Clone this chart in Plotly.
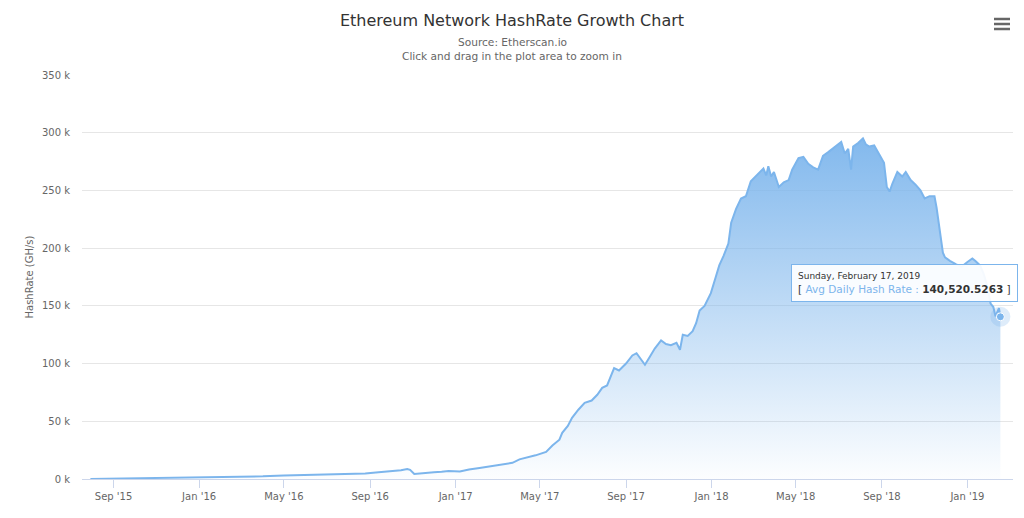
import plotly.graph_objects as go
import pandas as pd

# daily average hashrate (GH/s)
dates = [
    "2015-07-30", "2015-08-15", "2015-09-01", "2015-10-01", "2015-11-01", "2015-12-01",
    "2016-01-01", "2016-02-01", "2016-03-06", "2016-04-01", "2016-05-01", "2016-06-08",
    "2016-07-01", "2016-08-03", "2016-08-25", "2016-09-13", "2016-10-01", "2016-10-15",
    "2016-10-24", "2016-10-28", "2016-11-03", "2016-11-10", "2016-11-20", "2016-12-01",
    "2016-12-12", "2016-12-22", "2017-01-07", "2017-01-20", "2017-02-04", "2017-02-20",
    "2017-03-08", "2017-03-23", "2017-04-02", "2017-04-12", "2017-04-25", "2017-05-10",
    "2017-05-19", "2017-05-29", "2017-06-02", "2017-06-10", "2017-06-16", "2017-06-25",
    "2017-07-04", "2017-07-14", "2017-07-22", "2017-07-29", "2017-08-05", "2017-08-15",
    "2017-08-22", "2017-09-01", "2017-09-10", "2017-09-16", "2017-09-22", "2017-09-28",
    "2017-10-05", "2017-10-12", "2017-10-21", "2017-10-28", "2017-11-04", "2017-11-12",
    "2017-11-17", "2017-11-21", "2017-11-28", "2017-12-05", "2017-12-10", "2017-12-15",
    "2017-12-22", "2017-12-31", "2018-01-07", "2018-01-12", "2018-01-18", "2018-01-25",
    "2018-01-29", "2018-02-05", "2018-02-12", "2018-02-19", "2018-02-26", "2018-03-05",
    "2018-03-09", "2018-03-16", "2018-03-20", "2018-03-23", "2018-03-27", "2018-03-31",
    "2018-04-07", "2018-04-14", "2018-04-21", "2018-04-26", "2018-05-05", "2018-05-12",
    "2018-05-19", "2018-05-26", "2018-06-02", "2018-06-09", "2018-06-16", "2018-06-26",
    "2018-07-05", "2018-07-10", "2018-07-15", "2018-07-19", "2018-07-22", "2018-07-29",
    "2018-08-05", "2018-08-09", "2018-08-14", "2018-08-21", "2018-08-28", "2018-09-04",
    "2018-09-08", "2018-09-12", "2018-09-16", "2018-09-23", "2018-09-30", "2018-10-05",
    "2018-10-12", "2018-10-19", "2018-10-26", "2018-11-01", "2018-11-08", "2018-11-15",
    "2018-11-18", "2018-11-22", "2018-11-27", "2018-11-30", "2018-12-07", "2018-12-16",
    "2018-12-24", "2019-01-01", "2019-01-08", "2019-01-12", "2019-01-19", "2019-01-24",
    "2019-01-29", "2019-02-03", "2019-02-07", "2019-02-10", "2019-02-12", "2019-02-15",
    "2019-02-17",
]
hashrate = [
    50, 200, 350, 500, 600, 750,
    1000, 1300, 1700, 2300, 3000, 3500,
    3800, 4300, 4800, 5800, 6500, 7600,
    8700, 8000, 4300, 4800, 5600, 5800,
    6200, 7000, 6500, 8200, 9500, 11000,
    12500, 14000, 17000, 18500, 20500, 23500,
    29000, 34000, 40000, 46000, 53000, 60000,
    66000, 68000, 73000, 79000, 81000, 96000,
    94000, 100000, 107000, 109000, 104000, 99000,
    106000, 113000, 120000, 117000, 116000, 118000,
    112000, 125000, 124000, 128000, 135000, 146000,
    150000, 161000, 175000, 185000, 193000, 204000,
    222000, 234000, 243000, 245000, 258000, 262000,
    265000, 269000, 263000, 271000, 262000, 266000,
    253000, 257000, 259000, 268000, 278000, 279000,
    273000, 270000, 268000, 280000, 283000, 288000,
    292000, 282000, 286000, 268000, 288000, 291000,
    295000, 290000, 288000, 289000, 282000, 274000,
    253000, 249000, 256000, 266000, 262000, 266000,
    259000, 255000, 250000, 243000, 245000, 245000,
    235000, 216000, 196000, 192000, 189000, 186000,
    184000, 188000, 191000, 189000, 185000, 178000,
    168000, 152000, 149000, 141000, 144000, 148000,
    140520.5263,
]

y_ticks = [0, 50000, 100000, 150000, 200000, 250000, 300000, 350000]
y_tick_labels = ["0 k", "50 k", "100 k", "150 k", "200 k", "250 k", "300 k", "350 k"]

df = pd.DataFrame({"Date": pd.to_datetime(dates), "HashRate": hashrate})

FONT = "DejaVu Sans"
BLUE = "#7cb5ec"

fig = go.Figure()
fig.add_trace(go.Scatter(
    x=df["Date"], y=df["HashRate"],
    mode="lines",
    line=dict(color=BLUE, width=2),
    fill="tozeroy",
    fillgradient=dict(
        type="vertical",
        colorscale=[[0, "rgba(124,181,236,0.02)"], [1, "rgba(124,181,236,0.95)"]],
    ),
    hoverinfo="skip",
    showlegend=False,
))

# hovered point + halo
last = df.iloc[-1]
fig.add_trace(go.Scatter(
    x=[last["Date"]], y=[last["HashRate"]], mode="markers",
    marker=dict(size=20, color="rgba(124,181,236,0.25)"),
    hoverinfo="skip", showlegend=False,
))
fig.add_trace(go.Scatter(
    x=[last["Date"]], y=[last["HashRate"]], mode="markers",
    marker=dict(size=8, color=BLUE, line=dict(color="white", width=1)),
    hoverinfo="skip", showlegend=False,
))

tip = (
    "<span style='font-size:9px'>%s</span><br>"
    "[ <span style='color:%s'>Avg Daily Hash Rate : </span><b>%s</b> ]"
    % (last["Date"].strftime("%A, %B %d, %Y").replace(" 0", " "), BLUE,
       "{:,.4f}".format(last["HashRate"]))
)

fig.update_layout(
    width=1024, height=518,
    margin=dict(l=82, r=11, t=75, b=39),
    paper_bgcolor="white", plot_bgcolor="white",
    font=dict(family=FONT, color="#666666", size=10),
    title=dict(
        text="Ethereum Network HashRate Growth Chart",
        x=0.5, xref="container", xanchor="center",
        y=1 - 20 / 518, yref="container", yanchor="middle",
        font=dict(family=FONT, size=16, color="#333333"),
    ),
    xaxis=dict(
        type="date",
        range=["2015-07-18", "2019-03-07"],
        tick0="2015-09-01", dtick="M4", tickformat="%b '%y",
        showgrid=False, zeroline=False,
        showline=True, linecolor="#ccd6eb", linewidth=1,
        ticks="outside", ticklen=8, tickcolor="#ccd6eb",
        tickfont=dict(size=10, color="#666666"),
    ),
    yaxis=dict(
        range=[0, 350000],
        tickvals=y_ticks, ticktext=y_tick_labels,
        showgrid=True, gridcolor="#e6e6e6", zeroline=False,
        showline=False, ticklabelstandoff=11,
        tickfont=dict(size=10, color="#666666"),
        title=dict(text="HashRate (GH/s)", font=dict(size=10, color="#666666"), standoff=6),
    ),
    annotations=[
        dict(text="Source: Etherscan.io", xref="paper", yref="paper",
             x=(512 - 82) / 931, y=(479 - 42) / 404, yanchor="middle", showarrow=False,
             font=dict(size=10.6, color="#666666")),
        dict(text="Click and drag in the plot area to zoom in", xref="paper", yref="paper",
             x=(512 - 82) / 931, y=(479 - 56) / 404, yanchor="middle", showarrow=False,
             font=dict(size=10.6, color="#666666")),
        dict(text=tip, x=last["Date"], y=last["HashRate"], xref="x", yref="y",
             xanchor="right", yanchor="bottom", xshift=18, yshift=15,
             showarrow=False, align="left",
             bgcolor="rgba(255,255,255,0.92)", bordercolor=BLUE, borderwidth=1,
             borderpad=6, font=dict(size=10.5, color="#333333")),
    ],
    shapes=[
        dict(type="line", xref="paper", yref="paper", x0=0.9796, x1=0.9968,
             y0=(479 - yy) / 404, y1=(479 - yy) / 404,
             line=dict(color="#666666", width=2.5))
        for yy in (19, 24, 29)
    ],
)

fig.write_html("out.html", config={"displayModeBar": False},
               post_script="document.body.style.margin='0px';")
